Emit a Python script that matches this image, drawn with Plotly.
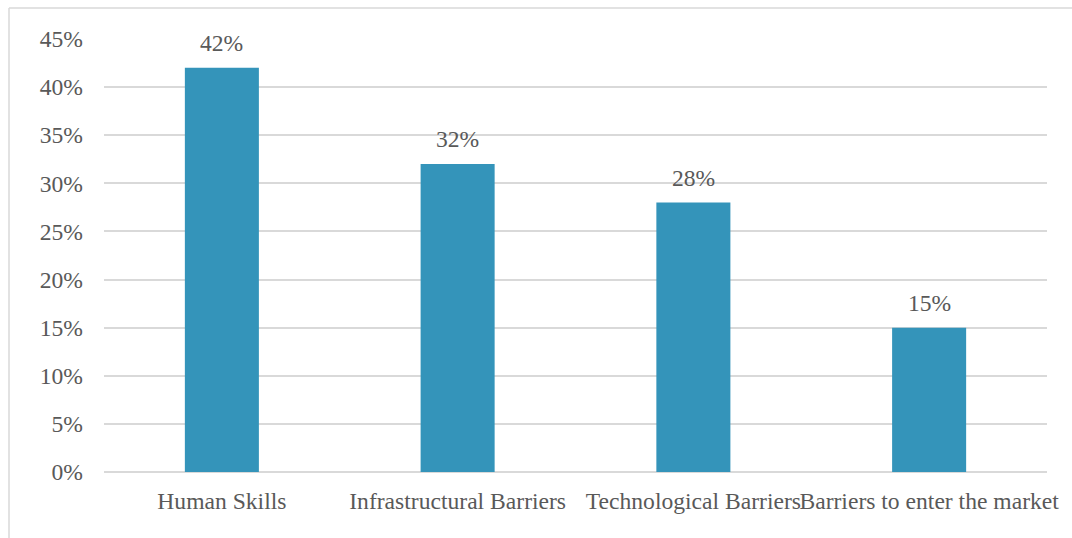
import plotly.graph_objects as go

categories = ["Human Skills", "Infrastructural Barriers", "Technological Barriers", "Barriers to enter the market"]
values = [0.42, 0.32, 0.28, 0.15]
y_ticks = [0, 0.05, 0.10, 0.15, 0.20, 0.25, 0.30, 0.35, 0.40, 0.45]
y_tick_labels = ["0%", "5%", "10%", "15%", "20%", "25%", "30%", "35%", "40%", "45%"]

W, H = 1072, 538
ML, MR, MT, MB = 104, 25, 39, 66
FONT = "Liberation Serif"
FS = 23.6
TEXT = "#595959"
GRID = "#D9D9D9"

fig = go.Figure(go.Bar(
    x=categories, y=values,
    marker=dict(color="#3494BA", line=dict(width=0)),
    hoverinfo="skip",
))

for c, v in zip(categories, values):
    fig.add_annotation(
        x=c, y=v, text=f"{round(v * 100)}%", showarrow=False,
        yanchor="bottom", yshift=10,
        font=dict(family=FONT, size=FS, color=TEXT),
    )

# chart-area frame (top and left edges visible)
pw, ph = W - ML - MR, H - MT - MB
x0 = (9 - ML) / pw
x1 = (W - ML) / pw
ytop = (H - MB - 8) / ph
ybot = (H - MB - H) / ph
fig.add_shape(type="line", xref="paper", yref="paper", x0=x0, x1=x1, y0=ytop, y1=ytop,
              line=dict(color=GRID, width=1.5))
fig.add_shape(type="line", xref="paper", yref="paper", x0=x0, x1=x0, y0=ybot, y1=ytop,
              line=dict(color=GRID, width=1.5))

fig.update_layout(
    width=W, height=H,
    margin=dict(l=ML, r=MR, t=MT, b=MB, pad=0),
    paper_bgcolor="white", plot_bgcolor="white",
    bargap=0.686,
    showlegend=False,
    font=dict(family=FONT, size=FS, color=TEXT),
    xaxis=dict(
        tickangle=0, showgrid=False, showline=False, zeroline=False,
        ticks="", ticklabelstandoff=12,
        tickfont=dict(family=FONT, size=FS, color=TEXT),
    ),
    yaxis=dict(
        range=[0, 0.45], tickvals=y_ticks, ticktext=y_tick_labels,
        showgrid=True, gridcolor=GRID, gridwidth=1.5,
        zeroline=True, zerolinecolor=GRID, zerolinewidth=1.5,
        showline=False, ticks="", ticklabelstandoff=20,
        tickfont=dict(family=FONT, size=FS, color=TEXT),
    ),
)

fig.write_html("out.html")
